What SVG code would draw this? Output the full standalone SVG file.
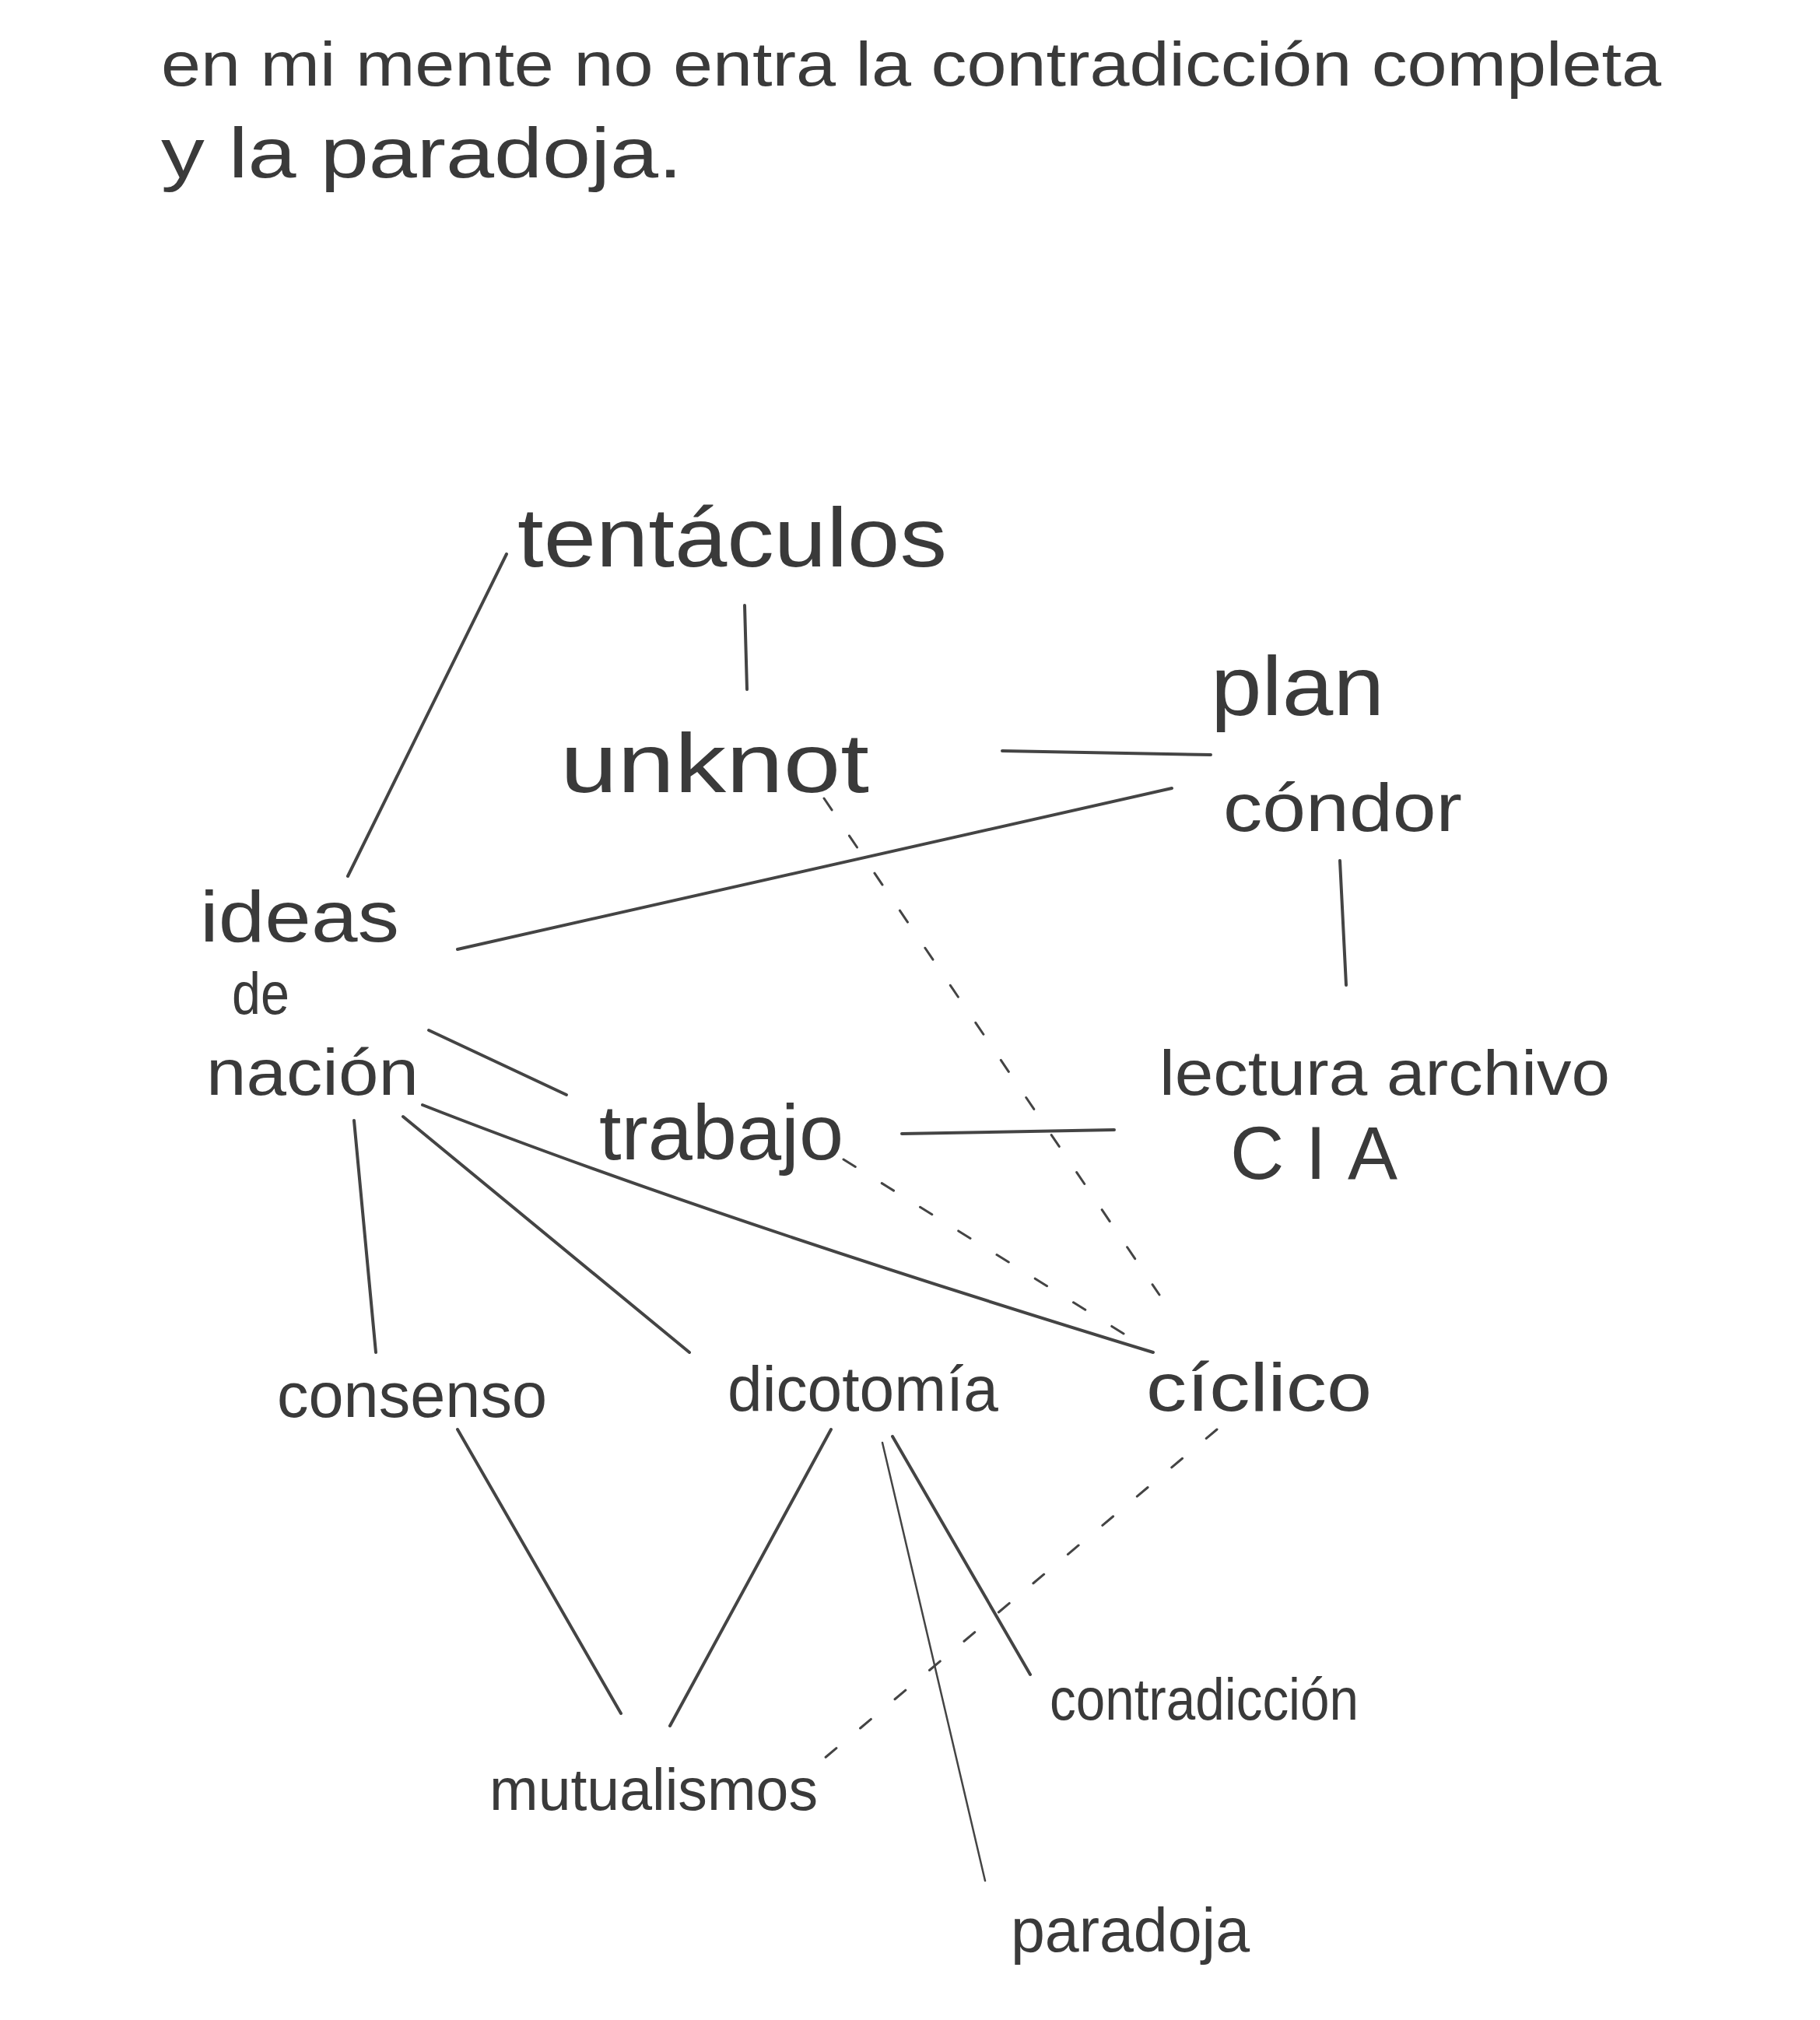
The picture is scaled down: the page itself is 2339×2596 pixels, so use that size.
<svg xmlns="http://www.w3.org/2000/svg" width="2339" height="2596" viewBox="0 0 2339 2596">
<style>
.t{font-family:"Liberation Sans","DejaVu Sans",sans-serif;fill:#3a3a3a;font-weight:normal}
.h{font-size:80px}
.n{font-size:88px}
.big{font-size:108px}
.c{fill:none;stroke:#444;stroke-width:4;stroke-linecap:round}
.thin{stroke-width:2.5}
.d{stroke-dasharray:18 40;stroke-width:3}
</style>
<rect width="2339" height="2596" fill="#fff"/>
<g id="header">
<text class="t h" x="207" y="110" textLength="1928" lengthAdjust="spacingAndGlyphs">en mi mente no entra la contradicción completa</text>
<text class="t" font-size="90" x="207" y="228" textLength="670" lengthAdjust="spacingAndGlyphs">y  la  paradoja.</text>
</g>
<g id="connectors">
<path class="c" d="M651 712 L447 1126"/>
<path class="c" d="M957 778 L960 886"/>
<path class="c" d="M1288 965 L1556 970"/>
<path class="c" d="M588 1220 L1506 1013"/>
<path class="c" d="M1722 1106 L1730 1266"/>
<path class="c" d="M551 1324 L728 1407"/>
<path class="c" d="M1159 1457 L1432 1452"/>
<path class="c" d="M543 1420 Q900 1560 1482 1738"/>
<path class="c" d="M455 1440 L483 1738"/>
<path class="c" d="M518 1435 L886 1738"/>
<path class="c" d="M588 1837 L798 2202"/>
<path class="c" d="M1068 1837 L861 2218"/>
<path class="c" d="M1147 1846 L1324 2152"/>
<path class="c thin" d="M1134 1854 L1266 2417"/>
<path class="c d" d="M1059 1026 L1490 1664"/>
<path class="c d" d="M1084 1490 L1457 1722"/>
<path class="c d" d="M1564 1837 L1059 2260"/>
</g>
<g id="tentaculos"><text class="t big" x="665" y="728" textLength="552" lengthAdjust="spacingAndGlyphs">tentáculos</text></g>
<g id="unknot"><text class="t big" x="720" y="1018" textLength="397" lengthAdjust="spacingAndGlyphs">unknot</text></g>
<g id="plan-condor">
<text class="t big" x="1556" y="919" textLength="223" lengthAdjust="spacingAndGlyphs">plan</text>
<text class="t n" x="1572" y="1068" textLength="307" lengthAdjust="spacingAndGlyphs">cóndor</text>
</g>
<g id="ideas-de-nacion">
<text class="t" font-size="92" x="257" y="1210" textLength="256" lengthAdjust="spacingAndGlyphs">ideas</text>
<text class="t" font-size="76" x="298" y="1303" textLength="74" lengthAdjust="spacingAndGlyphs">de</text>
<text class="t" font-size="84" x="265" y="1407" textLength="273" lengthAdjust="spacingAndGlyphs">nación</text>
</g>
<g id="trabajo"><text class="t" font-size="100" x="770" y="1490" textLength="314" lengthAdjust="spacingAndGlyphs">trabajo</text></g>
<g id="lectura-archivo-cia">
<text class="t" font-size="82" x="1490" y="1407" textLength="579" lengthAdjust="spacingAndGlyphs">lectura archivo</text>
<text class="t" font-size="96" x="1581" y="1515" textLength="215" lengthAdjust="spacing">CIA</text>
</g>
<g id="consenso"><text class="t" font-size="82" x="356" y="1821" textLength="347" lengthAdjust="spacingAndGlyphs">consenso</text></g>
<g id="dicotomia"><text class="t" font-size="82" x="935" y="1813" textLength="348" lengthAdjust="spacingAndGlyphs">dicotomía</text></g>
<g id="ciclico"><text class="t n" x="1473" y="1813" textLength="290" lengthAdjust="spacingAndGlyphs">cíclico</text></g>
<g id="mutualismos"><text class="t" font-size="76" x="629" y="2326" textLength="422" lengthAdjust="spacingAndGlyphs">mutualismos</text></g>
<g id="contradiccion"><text class="t" font-size="76" x="1349" y="2210" textLength="397" lengthAdjust="spacingAndGlyphs">contradicción</text></g>
<g id="paradoja"><text class="t" font-size="80" x="1299" y="2508" textLength="307" lengthAdjust="spacingAndGlyphs">paradoja</text></g>
</svg>
